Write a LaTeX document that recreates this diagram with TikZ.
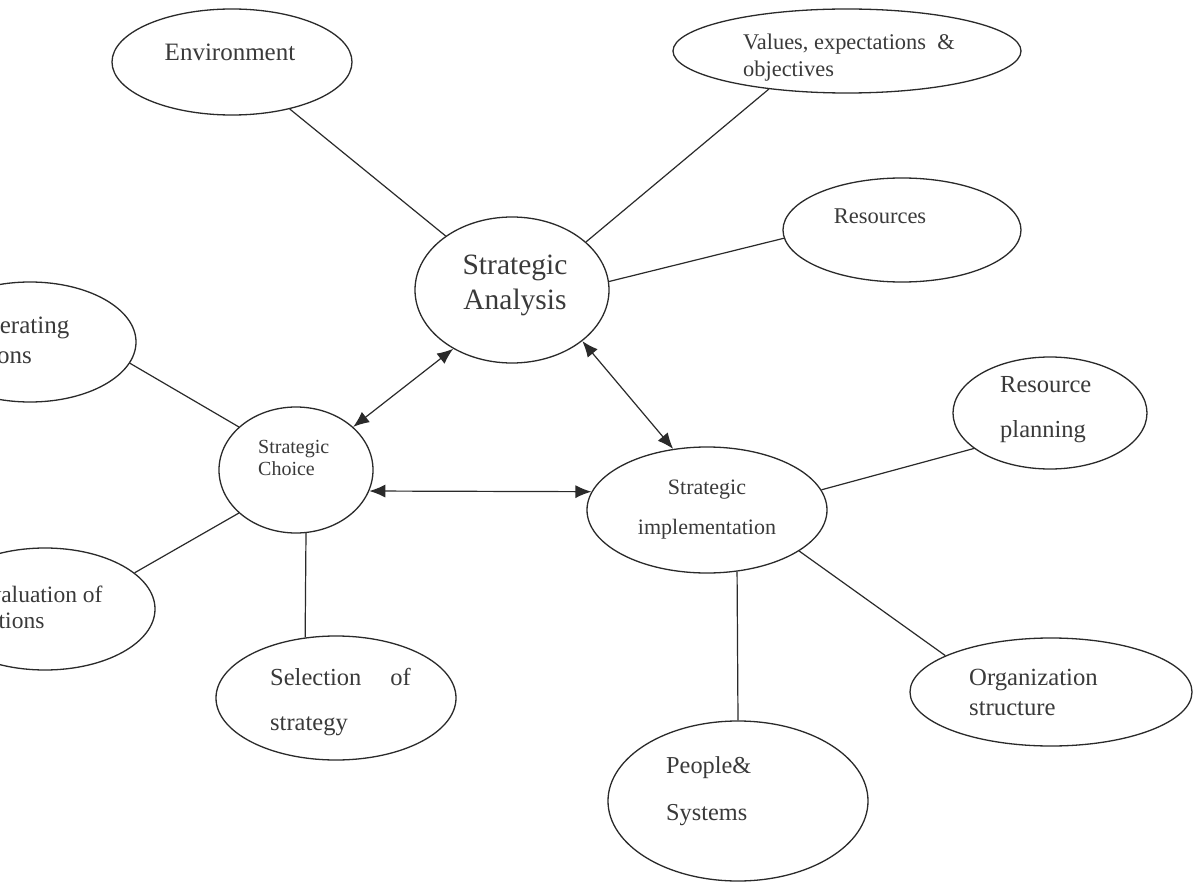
\documentclass[tikz,border=0pt]{standalone}
\usepackage{fontspec}
\setmainfont{Liberation Serif}
\usetikzlibrary{shapes.geometric,arrows.meta}

\definecolor{ink}{HTML}{2A2A2A}
\definecolor{print}{HTML}{3A3A3A}

\tikzstyle{bubble} = [ellipse, draw=ink, line width=1.3pt, inner sep=0pt]
\tikzstyle{bubbleText} = [text=print, inner sep=0pt, align=left]
\tikzstyle{link} = [draw=ink, line width=1.2pt]
\tikzstyle{twoway} = [link, <->, >={Latex[length=16pt,width=13pt]}]

\begin{document}
\begin{tikzpicture}[x=1pt, y=-1pt]
    \useasboundingbox (0,0) rectangle (1195,888);
    \clip (0,0) rectangle (1195,888);
    \fill[white] (0,0) rectangle (1195,888);

    % bubbles
    \node (env)[bubble, minimum width=240pt, minimum height=106pt] at (232,62) {};
    \node (val)[bubble, minimum width=348pt, minimum height=84pt] at (847,51) {};
    \node (res)[bubble, minimum width=238pt, minimum height=104pt] at (902,230) {};
    \node (sa)[bubble, minimum width=194pt, minimum height=146pt] at (512,290) {};
    \node (sc)[bubble, minimum width=154pt, minimum height=126pt] at (296,470) {};
    \node (si)[bubble, minimum width=240pt, minimum height=126pt] at (707,510) {};
    \node (rp)[bubble, minimum width=194pt, minimum height=112pt] at (1050,413) {};
    \node (org)[bubble, minimum width=282pt, minimum height=108pt] at (1051,692) {};
    \node (ppl)[bubble, minimum width=260pt, minimum height=160pt] at (738,801) {};
    \node (sel)[bubble, minimum width=240pt, minimum height=124pt] at (336,698) {};
    \node (gen)[bubble, minimum width=212pt, minimum height=120pt] at (30,342) {};
    \node (eval)[bubble, minimum width=220pt, minimum height=122pt] at (45,609) {};

    % texts
    \node (envText)[bubbleText, font=\fontsize{25}{30}\selectfont] at (230,52) {Environment};
    \node (valText)[bubbleText, anchor=west, font=\fontsize{22.4}{27}\selectfont] at (743,58) {Values, expectations~~\&\\objectives};
    \node (resText)[bubbleText, font=\fontsize{22.5}{27}\selectfont] at (880,216) {Resources};
    \node (saText)[bubbleText, align=center, font=\fontsize{29.5}{35}\selectfont] at (515,285) {Strategic\\Analysis};
    \node (scText)[bubbleText, anchor=west, font=\fontsize{20}{22}\selectfont] at (258,458) {Strategic\\Choice};
    \node (siText)[bubbleText, align=center, font=\fontsize{22}{40}\selectfont] at (707,510) {Strategic\\implementation};
    \node (rpText)[bubbleText, anchor=west, font=\fontsize{24.5}{45}\selectfont] at (1000,410) {Resource\\planning};
    \node (orgText)[bubbleText, anchor=west, font=\fontsize{24.7}{30}\selectfont] at (969,692) {Organization\\structure};
    \node (pplText)[bubbleText, anchor=west, font=\fontsize{24.3}{47}\selectfont] at (666,791) {People\&\\Systems};
    \node (selText)[bubbleText, anchor=west, font=\fontsize{24.5}{45}\selectfont] at (270,702) {Selection\hspace{29pt}of\\strategy};
    \node (genText)[bubbleText, anchor=west, font=\fontsize{25}{30}\selectfont] at (-42,343) {Generating\\options};
    \node (evalText)[bubbleText, anchor=west, font=\fontsize{23.5}{26}\selectfont] at (-25,610) {Evaluation of\\options};

    % links
    \draw [link] (env) -- (sa);
    \draw [link] (sa.33) -- (val.206);
    \draw [link] (sa.5) -- (res.184);
    \draw [link] (sc.143) -- (gen.-12);
    \draw [link] (sc.217) -- (eval.22);
    \draw [link] (sc.-81) -- (sel.117);
    \draw [link] (si.10) -- (rp.205);
    \draw [link] (si.-24) -- (org.161);
    \draw [link] (si.-64) -- (ppl.north);

    \draw [twoway] (sa.225) -- (sc.37);
    \draw [twoway] (sa.-36) -- (si.119);
    \draw [twoway] (sc.-16) -- (si.171);
\end{tikzpicture}
\end{document}
